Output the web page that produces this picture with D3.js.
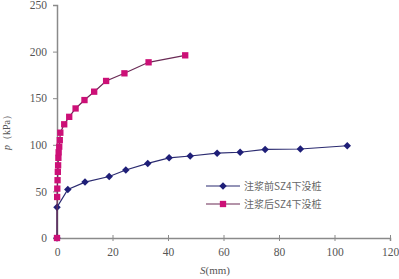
<!DOCTYPE html>
<html>
<head>
<meta charset="utf-8">
<script src="https://cdn.jsdelivr.net/npm/d3@7"></script>
<style>
  body { margin: 0; background: #fff; }
  svg { display: block; }
</style>
</head>
<body>
<div id="chart"></div>
<script>
// before grouting (S mm, p kPa)
const beforeS = [0, 0, 3.9, 10.1, 18.8, 24.8, 32.7, 40.4, 48, 57.7, 66, 75, 87.7, 104.6];
const beforeP = [0, 33, 52, 60, 66, 73, 80, 86, 88, 91, 92, 95, 95.5, 99];
// after grouting
const afterS = [0, 0.05, 0.1, 0.2, 0.3, 0.4, 0.5, 0.6, 0.8, 1.0, 1.2, 2.6, 4.4, 6.7, 9.9, 13.4, 17.7, 24.3, 33, 46.2];
const afterP = [0, 44, 53, 62, 71, 78, 86, 92, 98, 105, 113, 122, 130, 139, 148, 157, 168.5, 176.7, 188.5, 196];

const xTicks = [0, 20, 40, 60, 80, 100, 120];
const yTicks = [0, 50, 100, 150, 200, 250];
const seriesNames = ["注浆前SZ4下没桩", "注浆后SZ4下没桩"];

const width = 399, height = 279;
const svg = d3.select("#chart").append("svg")
  .attr("width", width).attr("height", height);

const x = d3.scaleLinear().domain([0, 120]).range([57, 390]);
const y = d3.scaleLinear().domain([0, 250]).range([238, 5]);

const axisColor = "#8a8a8a";
const serif = "'Liberation Serif', 'DejaVu Serif', serif";

// ── Axes ──
const gx = svg.append("g")
  .attr("transform", `translate(0,${y(0)})`)
  .call(d3.axisBottom(x).tickValues(xTicks).tickSize(3).tickPadding(7));
gx.selectAll(".tick line").attr("y1", -3).attr("y2", 3);

const gy = svg.append("g")
  .attr("transform", `translate(${x(0)},0)`)
  .call(d3.axisLeft(y).tickValues(yTicks).tickSize(4).tickPadding(6));

svg.selectAll(".domain").attr("stroke", axisColor).attr("stroke-width", 1.5);
svg.selectAll(".tick line").attr("stroke", axisColor);
svg.selectAll(".tick text")
  .attr("fill", "#555")
  .attr("font-family", serif)
  .attr("font-size", "11.5px");

// ── Axis titles ──
svg.append("text")
  .attr("x", 215).attr("y", 274)
  .attr("text-anchor", "middle")
  .attr("fill", "#555")
  .attr("font-family", serif)
  .attr("font-size", "11px")
  .html("<tspan font-style='italic'>S</tspan>(mm)");

svg.append("text")
  .attr("transform", "translate(10,130) rotate(-90)")
  .attr("text-anchor", "middle")
  .attr("fill", "#555")
  .attr("font-family", serif)
  .attr("font-size", "10px")
  .html("<tspan font-style='italic'>p</tspan>（kPa）");

// ── Series ──
// diamonds are squares turned 45°
const series = [
  { s: beforeS, p: beforeP, line: "#2b2b70", fill: "#1f1f78", shape: d3.symbolSquare, size: 28, rot: 45 },
  { s: afterS, p: afterP, line: "#6a2a55", fill: "#cc1077", shape: d3.symbolSquare, size: 40, rot: 0 },
];

const line = d3.line().x((d) => x(d[0])).y((d) => y(d[1]));

series.forEach((ser) => {
  const pts = ser.s.map((v, i) => [v, ser.p[i]]);
  svg.append("path")
    .attr("d", line(pts))
    .attr("fill", "none")
    .attr("stroke", ser.line)
    .attr("stroke-width", 1.2);
  svg.append("g").selectAll("path")
    .data(pts)
    .join("path")
    .attr("transform", (d) => `translate(${x(d[0])},${y(d[1])}) rotate(${ser.rot})`)
    .attr("d", d3.symbol().type(ser.shape).size(ser.size))
    .attr("fill", ser.fill);
});

// ── Legend ──
const legend = svg.append("g").attr("transform", "translate(206,186)");
series.forEach((ser, i) => {
  const row = legend.append("g").attr("transform", `translate(0,${i * 18})`);
  row.append("line")
    .attr("x1", 0).attr("x2", 34).attr("y1", 0).attr("y2", 0)
    .attr("stroke", ser.line).attr("stroke-width", 1.2);
  row.append("path")
    .attr("transform", `translate(17,0) rotate(${ser.rot})`)
    .attr("d", d3.symbol().type(ser.shape).size(ser.size))
    .attr("fill", ser.fill);
  row.append("text")
    .attr("x", 38).attr("y", 4)
    .attr("fill", "#666")
    .attr("font-family", "'Noto Sans CJK SC', sans-serif")
    .attr("font-size", "10px")
    .text(seriesNames[i]);
});
</script>
</body>
</html>
